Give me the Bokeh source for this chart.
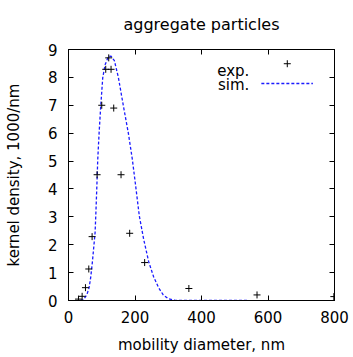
from bokeh.plotting import figure
from bokeh.models import LinearAxis, FixedTicker, Range1d, Label
from bokeh.embed import file_html
from bokeh.resources import INLINE

# experimental data (mobility diameter nm, kernel density 1000/nm)
exp_d = [30, 41, 51, 61, 71, 86, 100, 112, 121, 128, 136, 158, 184, 229, 362, 567, 798]
exp_y = [0.05, 0.15, 0.46, 1.13, 2.29, 4.51, 7.0, 8.29, 8.70, 8.29, 6.9, 4.51, 2.41, 1.36, 0.43, 0.2, 0.14]

# simulated curve
sim_d = [36, 45, 55, 62, 67, 72, 80, 82, 85, 88, 92, 97, 103, 110, 120, 128, 138, 150,
         165, 180, 192, 200, 213, 226, 241, 256, 271, 285, 301, 320, 350, 400, 450, 500, 541]
sim_y = [0.0, 0.03, 0.2, 0.46, 0.85, 1.40, 2.44, 3.03, 4.0, 5.06, 6.0, 6.98, 7.99, 8.45, 8.75,
         8.76, 8.6, 8.0, 6.98, 6.0, 5.06, 4.3, 3.03, 2.2, 1.4, 0.85, 0.46, 0.2, 0.06, 0.01,
         0.0, 0.0, 0.0, 0.0, 0.0]

x_ticks = [0, 200, 400, 600, 800]
y_ticks = [0, 1, 2, 3, 4, 5, 6, 7, 8, 9]

FONT = "DejaVu Sans"
FS = "15px"

p = figure(width=353, height=357, output_backend="svg", toolbar_location=None,
           x_range=Range1d(0, 800), y_range=Range1d(0, 9),
           min_border_left=68, min_border_right=19, min_border_top=42, min_border_bottom=57,
           title="aggregate particles")
p.title.align = "center"
p.title.vertical_align = "top"
p.title.text_font = FONT
p.title.text_font_size = "16px"
p.title.text_font_style = "normal"
p.title.text_color = "black"
p.title.standoff = 28

p.xgrid.visible = False
p.ygrid.visible = False
p.outline_line_color = "black"
p.outline_line_width = 1
p.background_fill_color = "white"
p.border_fill_color = "white"

def style_axis(ax, ticks, show_labels=True):
    ax.ticker = FixedTicker(ticks=ticks)
    ax.major_tick_in = 5
    ax.major_tick_out = 0
    ax.minor_tick_in = 0
    ax.minor_tick_out = 0
    ax.axis_line_color = "black"
    ax.major_tick_line_color = "black"
    ax.major_label_text_font = FONT
    ax.major_label_text_font_size = FS
    ax.major_label_text_color = "black"
    ax.axis_label_text_font = FONT
    ax.axis_label_text_font_size = FS
    ax.axis_label_text_font_style = "normal"
    ax.axis_label_text_color = "black"
    if not show_labels:
        ax.major_label_overrides = {t: "" for t in ticks}
        ax.major_label_standoff = 0

xa = p.xaxis[0]
style_axis(xa, x_ticks)
xa.axis_label = "mobility diameter, nm"
xa.major_label_standoff = 10
xa.axis_label_standoff = 10

ya = p.yaxis[0]
style_axis(ya, y_ticks)
ya.axis_label = "kernel density, 1000/nm"
ya.major_label_standoff = 11
ya.axis_label_standoff = 22

top = LinearAxis()
style_axis(top, x_ticks, show_labels=False)
p.add_layout(top, "above")
right = LinearAxis()
style_axis(right, y_ticks, show_labels=False)
p.add_layout(right, "right")

p.line(sim_d, sim_y, line_color="#1a1aff", line_width=1.3, line_dash="3 2")
p.scatter(exp_d, exp_y, marker="cross", size=7, line_color="black", line_width=1)

# legend (label left of key, as in the reference)
LEG_TEXT_X = 544
p.add_layout(Label(x=LEG_TEXT_X, y=8.23, text="exp.", text_align="right", text_baseline="alphabetic",
                   text_font=FONT, text_font_size=FS, text_color="black"))
p.add_layout(Label(x=LEG_TEXT_X, y=7.74, text="sim.", text_align="right", text_baseline="alphabetic",
                   text_font=FONT, text_font_size=FS, text_color="black"))
p.scatter([658], [8.49], marker="cross", size=7, line_color="black", line_width=1)
p.line([580, 735], [7.78, 7.78], line_color="#1a1aff", line_width=1.3, line_dash="3 2")

open("out.html", "w").write(file_html(p, INLINE))
